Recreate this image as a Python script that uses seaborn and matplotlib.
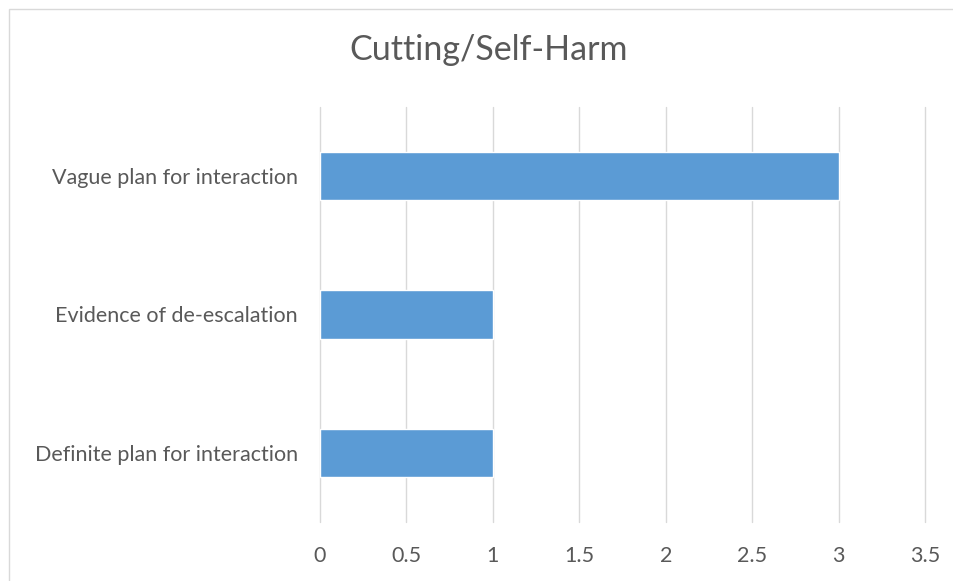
import matplotlib
matplotlib.use("Agg")
import matplotlib.pyplot as plt
import seaborn as sns
import pandas as pd
from matplotlib.patches import Rectangle

categories = ["Vague plan for interaction", "Evidence of de-escalation", "Definite plan for interaction"]
counts = [3, 1, 1]
x_ticks = [0, 0.5, 1, 1.5, 2, 2.5, 3, 3.5]
x_tick_labels = ["0", "0.5", "1", "1.5", "2", "2.5", "3", "3.5"]

sns.set_theme(style="white")
plt.rcParams['font.family'] = ['Lato', 'DejaVu Sans']

TEXT = "#595959"
BAR = "#5B9BD5"

df = pd.DataFrame({"category": categories, "count": counts})

fig = plt.figure(figsize=(9.54, 5.81), dpi=100)
ax = fig.add_axes([320 / 954, 1 - 522 / 581, 605 / 954, 415 / 581])

sns.barplot(data=df, x="count", y="category", orient="h", color=BAR,
            width=0.35, saturation=1, ax=ax)

ax.set_xlim(0, 3.5)
ax.set_xticks(x_ticks)
ax.set_xticklabels(x_tick_labels)
ax.set_xlabel("")
ax.set_ylabel("")
ax.grid(axis="x", color="#D9D9D9", linewidth=1)
for gl in ax.get_xgridlines():
    gl.set_clip_on(False)
ax.set_axisbelow(True)
for s in ax.spines.values():
    s.set_visible(False)
ax.tick_params(axis="x", length=0, pad=17, labelsize=15.5, labelcolor=TEXT)
ax.tick_params(axis="y", length=0, pad=16, labelsize=15.5, labelcolor=TEXT)

fig.text(489 / 954, 1 - 50 / 581, "Cutting/Self-Harm", ha="center", va="center",
         fontsize=24.5, color=TEXT)

# light chart-area border like the source
fig.patches.append(Rectangle((9 / 954, -0.01), 1.0, 1 - 9 / 581 + 0.01,
                             transform=fig.transFigure, fill=False,
                             edgecolor="#D9D9D9", linewidth=1))

fig.savefig("out.png", dpi=100)
